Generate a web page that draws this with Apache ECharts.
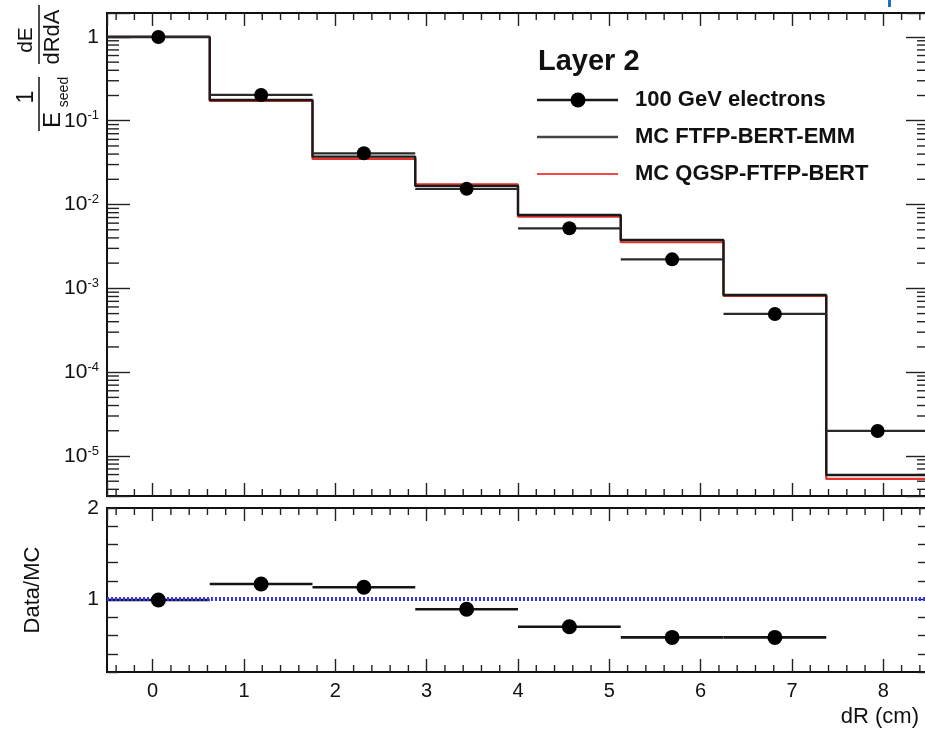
<!DOCTYPE html>
<html>
<head>
  <meta charset="utf-8">
  <title>Layer 2 - dR profile</title>
  <script src="https://cdn.jsdelivr.net/npm/echarts@6/dist/echarts.min.js"></script>
  <style>
    html, body { margin: 0; padding: 0; background: #fff; overflow: hidden; }
    /* the original figure is cropped on the right, so the canvas is a little wider than the window */
    #chart { width: 935px; height: 729px; }
  </style>
</head>
<body>
<div id="chart"></div>
<script>
  // bin edges in dR (cm)
  var binEdges = [-0.5, 0.625, 1.75, 2.875, 4.0, 5.125, 6.25, 7.375, 8.5];
  // 100 GeV electrons (data points)
  var dataVals = [1.0, 0.203, 0.0409, 0.0154, 0.00521, 0.00222, 0.000495, 1.99e-5];
  // MC FTFP-BERT-EMM
  var mcFtfp = [1.0, 0.177, 0.0373, 0.0167, 0.00751, 0.00378, 0.000834, 5.93e-6];
  // MC QGSP-FTFP-BERT
  var mcQgsp = [1.0, 0.172, 0.0350, 0.0174, 0.00717, 0.00355, 0.000811, 5.32e-6];
  // Data/MC (last bin is off scale)
  var ratioVals = [0.99, 1.166, 1.13, 0.888, 0.697, 0.58, 0.58];

  var X_MIN = -0.5, X_MAX = 8.5;
  var TOP_MIN = 3.33e-6, TOP_MAX = 1.93;
  var R_MIN = 0.2, R_MAX = 2;
  var FONT = '"Liberation Sans", Arial, Helvetica, sans-serif';
  var INK = '#111';

  function stepData(vals) {
    var d = vals.map(function (v, i) { return [binEdges[i], v]; });
    d.push([binEdges[vals.length], vals[vals.length - 1]]);
    return d;
  }
  function barData(vals) {
    return vals.map(function (v, i) { return [binEdges[i], binEdges[i + 1], v]; });
  }
  function pointData(vals) {
    return vals.map(function (v, i) { return [(binEdges[i] + binEdges[i + 1]) / 2, v]; });
  }

  function hbar(color, width) {
    return function (params, api) {
      var a = api.coord([api.value(0), api.value(2)]);
      var b = api.coord([api.value(1), api.value(2)]);
      return {
        type: 'line',
        shape: {x1: a[0], y1: a[1], x2: b[0], y2: b[1]},
        style: {stroke: color, lineWidth: width}
      };
    };
  }

  function tick(x1, y1, x2, y2) {
    return {type: 'line', shape: {x1: x1, y1: y1, x2: x2, y2: y2}, style: {stroke: '#222', lineWidth: 1.4}};
  }

  // minor ticks the way ROOT draws them (x every 0.2, log y at 2..9)
  function minorTicks(yLo, yHi, logY) {
    return function (params, api) {
      var kids = [];
      var xl = api.coord([X_MIN, yLo])[0], xr = api.coord([X_MAX, yLo])[0];
      var yb = api.coord([0, yLo])[1], yt = api.coord([0, yHi])[1];
      for (var k = -2; k <= 42; k++) {
        if (k % 5 === 0) continue;
        var x = api.coord([k * 0.2, yLo])[0];
        kids.push(tick(x, yb, x, yb - 7), tick(x, yt, x, yt + 7));
      }
      if (logY) {
        for (var e = -6; e <= 0; e++) {
          for (var m = 2; m <= 9; m++) {
            var v = m * Math.pow(10, e);
            if (v <= yLo || v >= yHi) continue;
            var y = api.coord([0, v])[1];
            kids.push(tick(xl, y, xl + 12, y), tick(xr, y, xr - 12, y));
          }
        }
      }
      return {type: 'group', children: kids};
    };
  }

  var tickStyle = {color: '#222', width: 1.4};

  function xAxisDef(grid, pos, labels) {
    return {
      gridIndex: grid, type: 'value', position: pos, min: X_MIN, max: X_MAX, splitNumber: 9,
      axisLine: {show: false, onZero: false},
      axisTick: {inside: true, length: 13, lineStyle: tickStyle},
      splitLine: {show: false},
      axisLabel: {
        show: labels, margin: 9, color: INK, fontSize: 20, fontFamily: FONT,
        showMinLabel: false, showMaxLabel: false,
        formatter: function (v) { return Math.abs(v - Math.round(v)) < 1e-6 ? String(Math.round(v) + 0) : ''; }
      }
    };
  }

  var chart = echarts.init(document.getElementById('chart'));

  chart.setOption({
    animation: false,
    backgroundColor: '#fff',
    textStyle: {fontFamily: FONT},
    grid: [
      {left: 107, top: 13, width: 822, height: 483, show: true, borderColor: INK, borderWidth: 2, backgroundColor: 'transparent'},
      {left: 107, top: 508, width: 822, height: 164, show: true, borderColor: INK, borderWidth: 2, backgroundColor: 'transparent'}
    ],
    xAxis: [
      xAxisDef(0, 'bottom', false),
      xAxisDef(0, 'top', false),
      xAxisDef(1, 'bottom', true),
      xAxisDef(1, 'top', false)
    ],
    yAxis: [
      {
        gridIndex: 0, type: 'log', logBase: 10, position: 'left', min: TOP_MIN, max: TOP_MAX,
        axisLine: {show: false, onZero: false}, splitLine: {show: false},
        axisTick: {inside: true, length: 23, lineStyle: tickStyle},
        axisLabel: {
          margin: 8, color: INK,
          formatter: function (v) {
            var e = Math.round(Math.log10(v));
            if (Math.abs(v / Math.pow(10, e) - 1) > 1e-4) return '';
            if (e === 0) return '{a|1}';
            return '{a|10}{b|' + e + '}';
          },
          rich: {
            a: {fontSize: 21, fontFamily: FONT, color: INK},
            b: {fontSize: 13, fontFamily: FONT, color: INK, verticalAlign: 'top', padding: [0, 0, 10, 0]}
          }
        }
      },
      {
        gridIndex: 0, type: 'log', logBase: 10, position: 'right', min: TOP_MIN, max: TOP_MAX,
        axisLine: {show: false, onZero: false}, splitLine: {show: false}, axisLabel: {show: false},
        axisTick: {inside: true, length: 23, lineStyle: tickStyle}
      },
      {
        gridIndex: 1, type: 'value', position: 'left', min: R_MIN, max: R_MAX, interval: 0.2,
        axisLine: {show: false, onZero: false}, splitLine: {show: false},
        axisTick: {inside: true, length: 11, lineStyle: tickStyle},
        axisLabel: {
          margin: 8, color: INK, fontSize: 21, fontFamily: FONT,
          formatter: function (v) {
            if (Math.abs(v - 1) < 1e-6) return '1';
            if (Math.abs(v - 2) < 1e-6) return '2';
            return '';
          }
        }
      },
      {
        gridIndex: 1, type: 'value', position: 'right', min: R_MIN, max: R_MAX, interval: 0.2,
        axisLine: {show: false, onZero: false}, splitLine: {show: false}, axisLabel: {show: false},
        axisTick: {inside: true, length: 11, lineStyle: tickStyle}
      }
    ],
    series: [
      {
        name: 'ticksTop', type: 'custom', xAxisIndex: 0, yAxisIndex: 0, silent: true, z: 1,
        data: [[0, 1]], encode: {x: 0, y: 1}, renderItem: minorTicks(TOP_MIN, TOP_MAX, true)
      },
      {
        name: 'ticksRatio', type: 'custom', xAxisIndex: 2, yAxisIndex: 2, silent: true, z: 1,
        data: [[0, 1]], encode: {x: 0, y: 1}, renderItem: minorTicks(R_MIN, R_MAX, false)
      },
      {
        name: 'MC QGSP-FTFP-BERT', type: 'line', step: 'end', xAxisIndex: 0, yAxisIndex: 0,
        data: stepData(mcQgsp), showSymbol: false, z: 2,
        lineStyle: {color: '#e8322c', width: 2.2}
      },
      {
        name: 'MC FTFP-BERT-EMM', type: 'line', step: 'end', xAxisIndex: 0, yAxisIndex: 0,
        data: stepData(mcFtfp), showSymbol: false, z: 3,
        lineStyle: {color: '#1a1a1a', width: 2.4}
      },
      {
        name: 'dataBars', type: 'custom', xAxisIndex: 0, yAxisIndex: 0, z: 4,
        data: barData(dataVals), encode: {x: [0, 1], y: 2}, renderItem: hbar('#2a2a2a', 2.2)
      },
      {
        name: '100 GeV electrons', type: 'scatter', xAxisIndex: 0, yAxisIndex: 0, z: 5,
        data: pointData(dataVals), symbol: 'circle', symbolSize: 14,
        itemStyle: {color: '#000', opacity: 1}
      },
      {
        name: 'unity', type: 'line', xAxisIndex: 2, yAxisIndex: 2, data: [], z: 2,
        markLine: {
          silent: true, symbol: 'none', label: {show: false},
          lineStyle: {color: '#3434ff', width: 4, type: [2, 2], opacity: 1},
          data: [{yAxis: 1}]
        }
      },
      {
        name: 'ratioBars', type: 'custom', xAxisIndex: 2, yAxisIndex: 2, z: 4,
        data: barData(ratioVals), encode: {x: [0, 1], y: 2}, renderItem: hbar('#151515', 2.6)
      },
      {
        name: 'ratio', type: 'scatter', xAxisIndex: 2, yAxisIndex: 2, z: 5,
        data: pointData(ratioVals), symbol: 'circle', symbolSize: 15,
        itemStyle: {color: '#000', opacity: 1}
      }
    ],
    graphic: [
      // y axis title of upper pad: 1/E_seed * dE/dRdA
      {type: 'text', x: 26, y: 40, rotation: Math.PI / 2, style: {text: 'dE', font: '21px ' + FONT, fill: INK, align: 'center', verticalAlign: 'middle'}},
      {type: 'line', shape: {x1: 39, y1: 5, x2: 39, y2: 64}, style: {stroke: INK, lineWidth: 1.5}},
      {type: 'text', x: 53, y: 37, rotation: Math.PI / 2, style: {text: 'dRdA', font: '22px ' + FONT, fill: INK, align: 'center', verticalAlign: 'middle'}},
      {type: 'text', x: 27, y: 97, rotation: Math.PI / 2, style: {text: '1', font: '23px ' + FONT, fill: INK, align: 'center', verticalAlign: 'middle'}},
      {type: 'line', shape: {x1: 39, y1: 77, x2: 39, y2: 131}, style: {stroke: INK, lineWidth: 1.5}},
      {type: 'text', x: 53, y: 120, rotation: Math.PI / 2, style: {text: 'E', font: '24px ' + FONT, fill: INK, align: 'center', verticalAlign: 'middle'}},
      {type: 'text', x: 64, y: 92, rotation: Math.PI / 2, style: {text: 'seed', font: '14px ' + FONT, fill: INK, align: 'center', verticalAlign: 'middle'}},
      // y axis title of ratio pad
      {type: 'text', x: 33, y: 590, rotation: Math.PI / 2, style: {text: 'Data/MC', font: '22px ' + FONT, fill: INK, align: 'center', verticalAlign: 'middle'}},
      // x axis title
      {type: 'text', x: 919, y: 717, style: {text: 'dR (cm)', font: '22px ' + FONT, fill: INK, align: 'right', verticalAlign: 'middle'}},
      // legend
      {type: 'text', x: 538, y: 62, style: {text: 'Layer 2', font: 'bold 29px ' + FONT, fill: INK, align: 'left', verticalAlign: 'middle'}},
      {type: 'line', shape: {x1: 537, y1: 100, x2: 618, y2: 100}, style: {stroke: '#1a1a1a', lineWidth: 2.4}},
      {type: 'circle', shape: {cx: 578, cy: 100, r: 7.5}, style: {fill: '#000'}},
      {type: 'text', x: 635, y: 100, style: {text: '100 GeV electrons', font: 'bold 22px ' + FONT, fill: INK, align: 'left', verticalAlign: 'middle'}},
      {type: 'line', shape: {x1: 537, y1: 137, x2: 618, y2: 137}, style: {stroke: '#444', lineWidth: 2.4}},
      {type: 'text', x: 635, y: 137, style: {text: 'MC FTFP-BERT-EMM', font: 'bold 22px ' + FONT, fill: INK, align: 'left', verticalAlign: 'middle'}},
      {type: 'line', shape: {x1: 537, y1: 174, x2: 618, y2: 174}, style: {stroke: '#f04a48', lineWidth: 2.2}},
      {type: 'text', x: 635, y: 174, style: {text: 'MC QGSP-FTFP-BERT', font: 'bold 22px ' + FONT, fill: INK, align: 'left', verticalAlign: 'middle'}},
      // stray blue mark at the top edge of the original figure
      {type: 'rect', shape: {x: 888, y: 0, width: 3, height: 7}, style: {fill: '#1f6fd0'}}
    ]
  });
</script>
</body>
</html>
